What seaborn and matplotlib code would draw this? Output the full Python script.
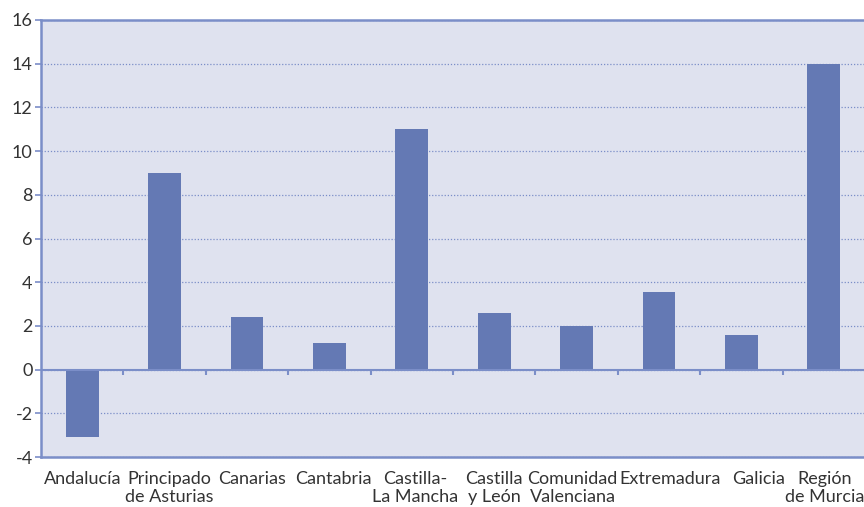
import matplotlib.pyplot as plt
import matplotlib.transforms as mtransforms
import numpy as np
import pandas as pd
import seaborn as sns

# ---- data -------------------------------------------------------------------
regions = ["Andalucía", "Principado\nde Asturias", "Canarias", "Cantabria",
           "Castilla-\nLa Mancha", "Castilla\ny León", "Comunidad\nValenciana",
           "Extremadura", "Galicia", "Región\nde Murcia"]
values = [-3.1, 9.0, 2.4, 1.2, 11.0, 2.6, 2.0, 3.55, 1.6, 14.0]
y_ticks = [-4, -2, 0, 2, 4, 6, 8, 10, 12, 14, 16]

# label nudges (px) -- the original squeezes labels apart where they crowd
label_shift = [0, 5, 5, 4, 3, 0, -4, 11, 17, 1]

BAR = "#6479b4"
SPINE = "#7b8ec8"
BG = "#dfe2ef"
TXT = "#333333"

sns.set_theme(style="white")
plt.rcParams["font.family"] = ["Lato", "DejaVu Sans"]

df = pd.DataFrame({"region": regions, "value": values})

fig = plt.figure(figsize=(8.64, 5.07), dpi=100)
ax = fig.add_axes([41 / 864, 50 / 507, 824 / 864, 437 / 507])
ax.set_facecolor(BG)

sns.barplot(data=df, x="region", y="value", color=BAR, saturation=1,
            width=0.4, linewidth=0, ax=ax, zorder=3)

ax.set_ylim(-4, 16)
ax.set_xlim(-0.5, len(regions) - 0.5)
ax.set_yticks(y_ticks)
ax.set_yticklabels([str(t) for t in y_ticks])
ax.set_xlabel(""); ax.set_ylabel("")

# dotted gridlines, solid zero line with category separator ticks
ax.yaxis.grid(True, linestyle=(0, (1, 1.5)), color=SPINE, lw=0.9, zorder=1)
ax.axhline(0, color=SPINE, lw=1.5, zorder=4)
bounds = np.arange(len(regions) - 1) + 0.5
ax.vlines(bounds, -0.25, 0, color=SPINE, lw=1.5, zorder=4)

for side in ("left", "bottom", "top"):
    ax.spines[side].set_color(SPINE)
    ax.spines[side].set_linewidth(1.8)
ax.spines["right"].set_visible(False)

ax.tick_params(axis="x", length=0, pad=10, labelsize=13, labelcolor=TXT)
ax.tick_params(axis="y", length=4, width=1.2, color=SPINE, pad=2,
               labelsize=13, labelcolor=TXT, left=True)

for lab, dx in zip(ax.get_xticklabels(), label_shift):
    lab.set_linespacing(1.15)
    lab.set_transform(lab.get_transform() +
                      mtransforms.ScaledTranslation(dx / 100, 0, fig.dpi_scale_trans))

fig.savefig("out.png", dpi=100)
